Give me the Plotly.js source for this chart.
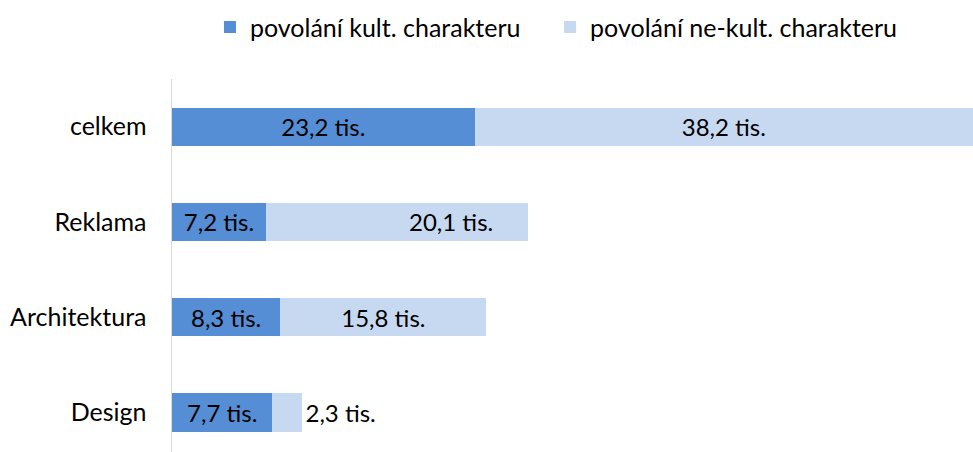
<!DOCTYPE html>
<html><head><meta charset="utf-8">
<script src="https://cdn.plot.ly/plotly-3.0.1.min.js"></script>
<style>html,body{margin:0;padding:0;background:#fff}</style>
</head><body>
<div id="chart" style="width:973px;height:452px"></div>
<script>
// categories bottom -> top
const categories = ["Design", "Architektura", "Reklama", "celkem"];
const kultValues = [7.7, 8.3, 7.2, 23.2];
const neKultValues = [2.3, 15.8, 20.1, 38.2];
const seriesNames = ["povolání kult. charakteru", "povolání ne-kult. charakteru"];
const fmt = v => v.toFixed(1).replace(".", ",") + " tis.";

const FONT = "Lato, 'Open Sans', sans-serif";
const LABEL_SIZE = 24;
const AXIS_SIZE = 25;
const totals = kultValues.map((v, i) => v + neKultValues[i]);

// Reklama label in reference sits off-centre; place it by annotation
const reklamaIdx = categories.indexOf("Reklama");
const neText = neKultValues.map((v, i) => i === reklamaIdx ? "" : fmt(v));
const nePos = neKultValues.map((v, i) => v < 5 ? "outside" : "inside");

const traces = [
  {type: "bar", orientation: "h", name: seriesNames[0], y: categories, x: kultValues,
   marker: {color: "#558ED5"}, width: 0.4, legend: "legend",
   text: kultValues.map(fmt), textposition: "inside", insidetextanchor: "middle",
   textfont: {family: FONT, size: LABEL_SIZE, color: "#000"}, constraintext: "none",
   hoverinfo: "none"},
  {type: "bar", orientation: "h", name: seriesNames[1], y: categories, x: neKultValues,
   marker: {color: "#C6D9F1"}, width: 0.4, legend: "legend2",
   text: neText, textposition: nePos, insidetextanchor: "middle",
   textfont: {family: FONT, size: LABEL_SIZE, color: "#000"}, constraintext: "none", cliponaxis: false,
   hoverinfo: "none"}
];

const legendBase = {orientation: "h", y: 1.139, yanchor: "middle", xanchor: "left",
  font: {family: FONT, size: AXIS_SIZE, color: "#000"}, itemclick: false, bgcolor: "rgba(0,0,0,0)"};

const layout = {
  width: 973, height: 452,
  margin: {l: 172, r: 0, t: 79, b: 0},
  barmode: "stack",
  paper_bgcolor: "#fff", plot_bgcolor: "#fff",
  font: {family: FONT, size: AXIS_SIZE, color: "#000"},
  xaxis: {range: [0, totals[3]], showgrid: false, zeroline: false, showticklabels: false, showline: false, fixedrange: true},
  yaxis: {type: "category", categoryorder: "array", categoryarray: categories, range: [-0.414, 3.5],
          showline: true, linecolor: "#D9D9D9", linewidth: 1.5, showgrid: false, zeroline: false,
          ticks: "", ticklabelstandoff: 19, tickfont: {family: FONT, size: AXIS_SIZE, color: "#000"}},
  showlegend: true,
  legend: Object.assign({}, legendBase, {x: 0.0474}),
  legend2: Object.assign({}, legendBase, {x: 0.472}),
  annotations: [
    {x: totals[reklamaIdx], y: categories[reklamaIdx], xref: "x", yref: "y", text: fmt(neKultValues[reklamaIdx]),
     xanchor: "right", xshift: -33, showarrow: false, font: {family: FONT, size: LABEL_SIZE, color: "#000"}}
  ]
};
Plotly.newPlot("chart", traces, layout, {displayModeBar: false, staticPlot: true});
</script>
</body></html>
